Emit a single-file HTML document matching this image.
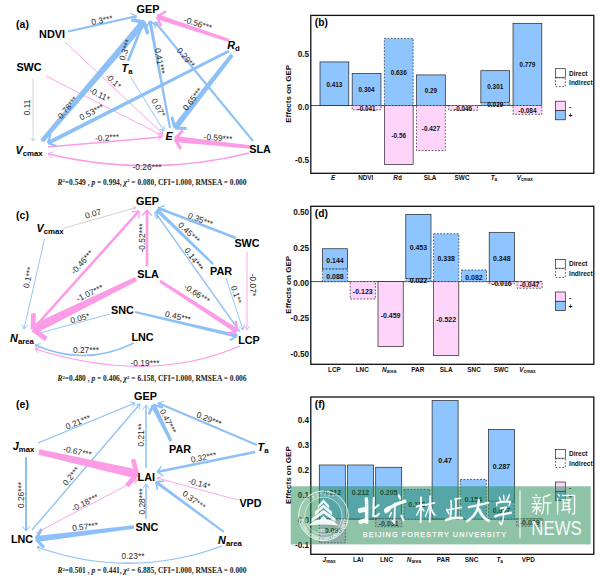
<!DOCTYPE html>
<html><head><meta charset="utf-8"><title>SEM figure</title>
<style>html,body{margin:0;padding:0;background:#fff}svg{display:block}text{font-family:"Liberation Sans",sans-serif}text.cap{font-family:"Liberation Serif",serif}</style>
</head><body>
<svg width="600" height="581" viewBox="0 0 600 581">
<rect width="600" height="581" fill="#fff"/>
<line x1="33" y1="78" x2="33" y2="141" stroke="#c4c4c4" stroke-width="0.7"/>
<line x1="33" y1="141" x2="31.16" y2="138.14" stroke="#c4c4c4" stroke-width="0.9" stroke-linecap="butt"/><line x1="33" y1="141" x2="34.84" y2="138.14" stroke="#c4c4c4" stroke-width="0.9" stroke-linecap="butt"/>
<line x1="65" y1="42" x2="163" y2="134" stroke="#fc9ce7" stroke-width="0.9"/>
<line x1="163" y1="134" x2="158.1" y2="133.17" stroke="#fc9ce7" stroke-width="0.9" stroke-linecap="butt"/><line x1="163" y1="134" x2="161.86" y2="129.16" stroke="#fc9ce7" stroke-width="0.9" stroke-linecap="butt"/>
<line x1="46" y1="76" x2="163" y2="136" stroke="#fc9ce7" stroke-width="0.9"/>
<line x1="163" y1="136" x2="158.06" y2="136.56" stroke="#fc9ce7" stroke-width="0.9" stroke-linecap="butt"/><line x1="163" y1="136" x2="160.57" y2="131.66" stroke="#fc9ce7" stroke-width="0.9" stroke-linecap="butt"/>
<line x1="130" y1="76" x2="164" y2="131" stroke="#8cc0f7" stroke-width="0.9"/>
<line x1="164" y1="131" x2="159.48" y2="128.93" stroke="#8cc0f7" stroke-width="0.9" stroke-linecap="butt"/><line x1="164" y1="131" x2="164.16" y2="126.03" stroke="#8cc0f7" stroke-width="0.9" stroke-linecap="butt"/>
<line x1="48" y1="147" x2="162" y2="137" stroke="#fc9ce7" stroke-width="1.5"/>
<line x1="162" y1="137" x2="157.66" y2="140.77" stroke="#fc9ce7" stroke-width="0.9" stroke-linecap="butt"/><line x1="162" y1="137" x2="157.07" y2="134.04" stroke="#fc9ce7" stroke-width="0.9" stroke-linecap="butt"/>
<path d="M249 153 Q150 178 48 154" fill="none" stroke="#fc9ce7" stroke-width="1.5"/>
<line x1="48" y1="154" x2="53.3" y2="151.78" stroke="#fc9ce7" stroke-width="0.9" stroke-linecap="butt"/><line x1="48" y1="154" x2="51.75" y2="158.36" stroke="#fc9ce7" stroke-width="0.9" stroke-linecap="butt"/>
<polygon points="253.77,140.36 155.77,21.36 154.23,22.64 252.23,141.64" fill="#8cc0f7"/>
<line x1="155" y1="22" x2="161.25" y2="23.39" stroke="#8cc0f7" stroke-width="1" stroke-linecap="butt"/><line x1="155" y1="22" x2="155.16" y2="28.4" stroke="#8cc0f7" stroke-width="1" stroke-linecap="butt"/>
<polygon points="68.24,32.57 136.74,17.37 136.26,15.23 67.76,30.43" fill="#8cc0f7"/>
<line x1="136.5" y1="16.3" x2="132.34" y2="21.5" stroke="#8cc0f7" stroke-width="1.1" stroke-linecap="butt"/><line x1="136.5" y1="16.3" x2="130.53" y2="13.35" stroke="#8cc0f7" stroke-width="1.1" stroke-linecap="butt"/>
<polygon points="129.21,61.48 145.21,21.48 142.79,20.52 126.79,60.52" fill="#8cc0f7"/>
<line x1="144" y1="21" x2="146.29" y2="27.81" stroke="#8cc0f7" stroke-width="1.3" stroke-linecap="butt"/><line x1="144" y1="21" x2="137.65" y2="24.35" stroke="#8cc0f7" stroke-width="1.3" stroke-linecap="butt"/>
<polygon points="228.41,49.84 47.05,141.13 48.95,144.87 229.59,52.16" fill="#8cc0f7"/>
<line x1="48" y1="143" x2="50.59" y2="134.11" stroke="#8cc0f7" stroke-width="2.1" stroke-linecap="butt"/><line x1="48" y1="143" x2="56.71" y2="146.15" stroke="#8cc0f7" stroke-width="2.1" stroke-linecap="butt"/>
<polygon points="170.98,127.82 151.57,20.71 148.43,21.29 169.02,128.18" fill="#8cc0f7"/>
<line x1="150" y1="21" x2="156.39" y2="25.75" stroke="#8cc0f7" stroke-width="1.6" stroke-linecap="butt"/><line x1="150" y1="21" x2="145.76" y2="27.73" stroke="#8cc0f7" stroke-width="1.6" stroke-linecap="butt"/>
<polygon points="230.53,53.86 172.64,126.15 177.36,129.85 233.47,56.14" fill="#8cc0f7"/>
<line x1="175" y1="128" x2="171.8" y2="116.85" stroke="#8cc0f7" stroke-width="3" stroke-linecap="butt"/><line x1="175" y1="128" x2="186.59" y2="128.4" stroke="#8cc0f7" stroke-width="3" stroke-linecap="butt"/>
<polygon points="43.65,142.41 146.66,24.28 141.34,19.72 40.35,139.59" fill="#8cc0f7"/>
<line x1="144" y1="22" x2="147.86" y2="34.31" stroke="#8cc0f7" stroke-width="3.5" stroke-linecap="butt"/><line x1="144" y1="22" x2="131.25" y2="20.07" stroke="#8cc0f7" stroke-width="3.5" stroke-linecap="butt"/>
<polygon points="229.49,39.03 157.99,14.23 156.41,18.97 228.51,41.97" fill="#fc9ce7"/>
<line x1="157.2" y1="16.6" x2="165.97" y2="11.2" stroke="#fc9ce7" stroke-width="2.5" stroke-linecap="butt"/><line x1="157.2" y1="16.6" x2="160.99" y2="26.18" stroke="#fc9ce7" stroke-width="2.5" stroke-linecap="butt"/>
<polygon points="250.2,145.15 175.32,136.02 174.68,141.98 249.8,148.85" fill="#fc9ce7"/>
<line x1="175" y1="139" x2="182.78" y2="130.39" stroke="#fc9ce7" stroke-width="3" stroke-linecap="butt"/><line x1="175" y1="139" x2="180.78" y2="149.05" stroke="#fc9ce7" stroke-width="3" stroke-linecap="butt"/>
<text transform="translate(27 107.5) rotate(-90)" y="3.02" text-anchor="middle" font-size="8.4" fill="#2a2a2a">0.11</text>
<text transform="translate(113.5 81) rotate(43)" y="3.02" text-anchor="middle" font-size="8.4" fill="#2a2a2a">-0.1*</text>
<text transform="translate(99.5 94.5) rotate(27)" y="3.02" text-anchor="middle" font-size="8.4" fill="#2a2a2a">-0.11*</text>
<text transform="translate(158.5 107.5) rotate(60)" y="3.02" text-anchor="middle" font-size="8.4" fill="#2a2a2a">0.07*</text>
<text transform="translate(107 137.5) rotate(-4)" y="3.02" text-anchor="middle" font-size="8.4" fill="#2a2a2a">-0.2***</text>
<text transform="translate(147 167) rotate(0)" y="3.02" text-anchor="middle" font-size="8.4" fill="#2a2a2a">-0.26***</text>
<text transform="translate(186 57.5) rotate(50)" y="3.02" text-anchor="middle" font-size="8.4" fill="#2a2a2a">0.29**</text>
<text transform="translate(102 20) rotate(-11)" y="3.02" text-anchor="middle" font-size="8.4" fill="#2a2a2a">0.3***</text>
<text transform="translate(125 50) rotate(-72)" y="3.02" text-anchor="middle" font-size="8.4" fill="#2a2a2a">0.3***</text>
<text transform="translate(91.5 112) rotate(-27)" y="3.02" text-anchor="middle" font-size="8.4" fill="#2a2a2a">0.53***</text>
<text transform="translate(160 61) rotate(80)" y="3.02" text-anchor="middle" font-size="8.4" fill="#2a2a2a">0.41***</text>
<text transform="translate(192.5 99) rotate(-52)" y="3.02" text-anchor="middle" font-size="8.4" fill="#2a2a2a">0.65***</text>
<text transform="translate(67.5 107.5) rotate(-50)" y="3.02" text-anchor="middle" font-size="8.4" fill="#2a2a2a">0.78***</text>
<text transform="translate(198 23.5) rotate(17)" y="3.02" text-anchor="middle" font-size="8.4" fill="#2a2a2a">-0.56***</text>
<text transform="translate(218 137.7) rotate(5)" y="3.02" text-anchor="middle" font-size="8.4" fill="#2a2a2a">-0.59***</text>
<text x="22.5" y="27.5" text-anchor="middle" font-size="10.5" font-weight="bold" fill="#000">(a)</text>
<text x="148" y="13.4" text-anchor="middle" font-size="10.8" font-weight="bold" fill="#000">GEP</text>
<text x="52" y="37.5" text-anchor="middle" font-size="10.8" font-weight="bold" fill="#000">NDVI</text>
<text x="29" y="71" text-anchor="middle" font-size="10.8" font-weight="bold" fill="#000">SWC</text>
<text x="233.5" y="48.5" text-anchor="middle" font-size="10.8" font-weight="bold" fill="#000"><tspan font-style="italic">R</tspan><tspan font-size="7.8" dy="2.2">d</tspan></text>
<text x="127" y="71.5" text-anchor="middle" font-size="10.8" font-weight="bold" fill="#000"><tspan font-style="italic">T</tspan><tspan font-size="7.8" dy="2.2">a</tspan></text>
<text x="169" y="140" text-anchor="middle" font-size="10.8" font-weight="bold" fill="#000"><tspan font-style="italic">E</tspan></text>
<text x="260" y="152.5" text-anchor="middle" font-size="10.8" font-weight="bold" fill="#000">SLA</text>
<text x="29" y="153.5" text-anchor="middle" font-size="10.8" font-weight="bold" fill="#000"><tspan font-style="italic">V</tspan><tspan font-size="7.8" dy="2.2">cmax</tspan></text>
<text x="152" y="185" text-anchor="middle" class="cap" font-weight="bold" font-size="7.45" fill="#222"><tspan font-style="italic">R</tspan><tspan font-size="4.9" dy="-2.6">2</tspan><tspan dy="2.6">=0.549 , </tspan><tspan font-style="italic">p</tspan> = 0.994, <tspan font-style="italic">χ</tspan><tspan font-size="4.9" dy="-2.6">2</tspan><tspan dy="2.6"> = 0.080, CFI=1.000, RMSEA = 0.000</tspan></text>
<line x1="62.5" y1="228.5" x2="136" y2="207.5" stroke="#c4c4c4" stroke-width="0.8"/>
<line x1="136" y1="207.5" x2="133.78" y2="210.07" stroke="#c4c4c4" stroke-width="0.9" stroke-linecap="butt"/><line x1="136" y1="207.5" x2="132.75" y2="206.49" stroke="#c4c4c4" stroke-width="0.9" stroke-linecap="butt"/>
<line x1="44.5" y1="239" x2="24" y2="329" stroke="#8cc0f7" stroke-width="0.9"/>
<line x1="24" y1="329" x2="22.24" y2="324.35" stroke="#8cc0f7" stroke-width="0.9" stroke-linecap="butt"/><line x1="24" y1="329" x2="27.6" y2="325.57" stroke="#8cc0f7" stroke-width="0.9" stroke-linecap="butt"/>
<line x1="247" y1="252" x2="247" y2="330" stroke="#fc9ce7" stroke-width="0.9"/>
<line x1="247" y1="330" x2="244.25" y2="325.86" stroke="#fc9ce7" stroke-width="0.9" stroke-linecap="butt"/><line x1="247" y1="330" x2="249.75" y2="325.86" stroke="#fc9ce7" stroke-width="0.9" stroke-linecap="butt"/>
<line x1="226" y1="278" x2="243" y2="330" stroke="#8cc0f7" stroke-width="0.9"/>
<line x1="243" y1="330" x2="239.1" y2="326.92" stroke="#8cc0f7" stroke-width="0.9" stroke-linecap="butt"/><line x1="243" y1="330" x2="244.33" y2="325.21" stroke="#8cc0f7" stroke-width="0.9" stroke-linecap="butt"/>
<line x1="110" y1="314" x2="36" y2="334" stroke="#8cc0f7" stroke-width="0.9"/>
<line x1="36" y1="334" x2="39.28" y2="330.26" stroke="#8cc0f7" stroke-width="0.9" stroke-linecap="butt"/><line x1="36" y1="334" x2="40.71" y2="335.58" stroke="#8cc0f7" stroke-width="0.9" stroke-linecap="butt"/>
<line x1="240" y1="332" x2="155" y2="212" stroke="#8cc0f7" stroke-width="1.3"/>
<line x1="155" y1="212" x2="160.18" y2="213.83" stroke="#8cc0f7" stroke-width="0.9" stroke-linecap="butt"/><line x1="155" y1="212" x2="155.01" y2="217.49" stroke="#8cc0f7" stroke-width="0.9" stroke-linecap="butt"/>
<path d="M134 343 Q85 367 35 345" fill="none" stroke="#8cc0f7" stroke-width="1.6"/>
<line x1="35" y1="345" x2="40.74" y2="343.71" stroke="#8cc0f7" stroke-width="0.9" stroke-linecap="butt"/><line x1="35" y1="345" x2="37.93" y2="350.1" stroke="#8cc0f7" stroke-width="0.9" stroke-linecap="butt"/>
<path d="M240 346 Q150 385 35 349" fill="none" stroke="#fc9ce7" stroke-width="1.3"/>
<line x1="35" y1="349" x2="40.23" y2="347.32" stroke="#fc9ce7" stroke-width="0.9" stroke-linecap="butt"/><line x1="35" y1="349" x2="38.34" y2="353.36" stroke="#fc9ce7" stroke-width="0.9" stroke-linecap="butt"/>
<polygon points="33.97,329.87 139.97,211.87 138.03,210.13 32.03,328.13" fill="#fc9ce7"/>
<line x1="139" y1="211" x2="138.81" y2="218.18" stroke="#fc9ce7" stroke-width="1.3" stroke-linecap="butt"/><line x1="139" y1="211" x2="131.88" y2="211.96" stroke="#fc9ce7" stroke-width="1.3" stroke-linecap="butt"/>
<polygon points="148.3,266 148.3,210 145.7,210 145.7,266" fill="#fc9ce7"/>
<line x1="147" y1="210" x2="151.65" y2="215.47" stroke="#fc9ce7" stroke-width="1.3" stroke-linecap="butt"/><line x1="147" y1="210" x2="142.35" y2="215.47" stroke="#fc9ce7" stroke-width="1.3" stroke-linecap="butt"/>
<polygon points="236.47,236.79 158.47,206.79 157.53,209.21 235.53,239.21" fill="#8cc0f7"/>
<line x1="158" y1="208" x2="164.77" y2="205.62" stroke="#8cc0f7" stroke-width="1.3" stroke-linecap="butt"/><line x1="158" y1="208" x2="161.43" y2="214.31" stroke="#8cc0f7" stroke-width="1.3" stroke-linecap="butt"/>
<polygon points="213.82,263.15 158.32,208.63 155.68,211.37 212.18,264.85" fill="#8cc0f7"/>
<line x1="157" y1="210" x2="165.74" y2="209.81" stroke="#8cc0f7" stroke-width="1.9" stroke-linecap="butt"/><line x1="157" y1="210" x2="157.13" y2="218.74" stroke="#8cc0f7" stroke-width="1.9" stroke-linecap="butt"/>
<polygon points="134.74,313.09 236.59,337.75 237.41,334.25 135.26,310.91" fill="#8cc0f7"/>
<line x1="237" y1="336" x2="229.74" y2="340.39" stroke="#8cc0f7" stroke-width="1.8" stroke-linecap="butt"/><line x1="237" y1="336" x2="232.46" y2="328.84" stroke="#8cc0f7" stroke-width="1.8" stroke-linecap="butt"/>
<polygon points="159.16,282.3 235.64,333.1 238.36,328.9 160.84,279.7" fill="#fc9ce7"/>
<line x1="237" y1="331" x2="227.15" y2="334.01" stroke="#fc9ce7" stroke-width="2.5" stroke-linecap="butt"/><line x1="237" y1="331" x2="235.74" y2="320.78" stroke="#fc9ce7" stroke-width="2.5" stroke-linecap="butt"/>
<polygon points="135.03,277.02 30.89,325.19 35.11,333.81 136.97,280.98" fill="#fc9ce7"/>
<line x1="33" y1="329.5" x2="33.53" y2="313.23" stroke="#fc9ce7" stroke-width="4.8" stroke-linecap="butt"/><line x1="33" y1="329.5" x2="46.19" y2="339.04" stroke="#fc9ce7" stroke-width="4.8" stroke-linecap="butt"/>
<text transform="translate(93 213.5) rotate(-16)" y="3.02" text-anchor="middle" font-size="8.4" fill="#2a2a2a">0.07</text>
<text transform="translate(28 277.5) rotate(-78)" y="3.02" text-anchor="middle" font-size="8.4" fill="#2a2a2a">0.1***</text>
<text transform="translate(253 285) rotate(90)" y="3.02" text-anchor="middle" font-size="8.4" fill="#2a2a2a">-0.07*</text>
<text transform="translate(236.5 294.5) rotate(72)" y="3.02" text-anchor="middle" font-size="8.4" fill="#2a2a2a">0.1**</text>
<text transform="translate(80 318) rotate(-15)" y="3.02" text-anchor="middle" font-size="8.4" fill="#2a2a2a">0.05*</text>
<text transform="translate(194 259) rotate(54)" y="3.02" text-anchor="middle" font-size="8.4" fill="#2a2a2a">0.14***</text>
<text transform="translate(86 350.3) rotate(0)" y="3.02" text-anchor="middle" font-size="8.4" fill="#2a2a2a">0.27***</text>
<text transform="translate(145 363.3) rotate(0)" y="3.02" text-anchor="middle" font-size="8.4" fill="#2a2a2a">-0.19***</text>
<text transform="translate(82 262) rotate(-48)" y="3.02" text-anchor="middle" font-size="8.4" fill="#2a2a2a">-0.46***</text>
<text transform="translate(142 238) rotate(-90)" y="3.02" text-anchor="middle" font-size="8.4" fill="#2a2a2a">-0.52***</text>
<text transform="translate(200.5 219.5) rotate(21)" y="3.02" text-anchor="middle" font-size="8.4" fill="#2a2a2a">0.35***</text>
<text transform="translate(189.2 232.5) rotate(43)" y="3.02" text-anchor="middle" font-size="8.4" fill="#2a2a2a">0.45***</text>
<text transform="translate(178 316.5) rotate(13)" y="3.02" text-anchor="middle" font-size="8.4" fill="#2a2a2a">0.45***</text>
<text transform="translate(197 293.5) rotate(33)" y="3.02" text-anchor="middle" font-size="8.4" fill="#2a2a2a">-0.66***</text>
<text transform="translate(89.6 293) rotate(-26)" y="3.02" text-anchor="middle" font-size="8.4" fill="#2a2a2a">-1.07***</text>
<text x="22.5" y="218.5" text-anchor="middle" font-size="10.5" font-weight="bold" fill="#000">(c)</text>
<text x="147.5" y="205" text-anchor="middle" font-size="10.8" font-weight="bold" fill="#000">GEP</text>
<text x="50" y="231.5" text-anchor="middle" font-size="10.8" font-weight="bold" fill="#000"><tspan font-style="italic">V</tspan><tspan font-size="7.8" dy="2.2">cmax</tspan></text>
<text x="148" y="277.8" text-anchor="middle" font-size="10.8" font-weight="bold" fill="#000">SLA</text>
<text x="247" y="247" text-anchor="middle" font-size="10.8" font-weight="bold" fill="#000">SWC</text>
<text x="221" y="275" text-anchor="middle" font-size="10.8" font-weight="bold" fill="#000">PAR</text>
<text x="122.5" y="314" text-anchor="middle" font-size="10.8" font-weight="bold" fill="#000">SNC</text>
<text x="142.5" y="341" text-anchor="middle" font-size="10.8" font-weight="bold" fill="#000">LNC</text>
<text x="22" y="341.5" text-anchor="middle" font-size="10.8" font-weight="bold" fill="#000"><tspan font-style="italic">N</tspan><tspan font-size="7.8" dy="2.2">area</tspan></text>
<text x="249" y="343.5" text-anchor="middle" font-size="10.8" font-weight="bold" fill="#000">LCP</text>
<text x="152" y="381.2" text-anchor="middle" class="cap" font-weight="bold" font-size="7.45" fill="#222"><tspan font-style="italic">R</tspan><tspan font-size="4.9" dy="-2.6">2</tspan><tspan dy="2.6">=0.480 , </tspan><tspan font-style="italic">p</tspan> = 0.406, <tspan font-style="italic">χ</tspan><tspan font-size="4.9" dy="-2.6">2</tspan><tspan dy="2.6"> = 6.158, CFI=1.000, RMSEA = 0.006</tspan></text>
<line x1="36" y1="533" x2="137" y2="480" stroke="#fc9ce7" stroke-width="0.9"/>
<line x1="137" y1="480" x2="134.61" y2="484.36" stroke="#fc9ce7" stroke-width="0.9" stroke-linecap="butt"/><line x1="137" y1="480" x2="132.06" y2="479.49" stroke="#fc9ce7" stroke-width="0.9" stroke-linecap="butt"/>
<line x1="238" y1="500" x2="157" y2="478" stroke="#fc9ce7" stroke-width="0.9"/>
<line x1="157" y1="478" x2="161.72" y2="476.43" stroke="#fc9ce7" stroke-width="0.9" stroke-linecap="butt"/><line x1="157" y1="478" x2="160.27" y2="481.74" stroke="#fc9ce7" stroke-width="0.9" stroke-linecap="butt"/>
<line x1="38" y1="443" x2="135" y2="403" stroke="#8cc0f7" stroke-width="1.3"/>
<line x1="135" y1="403" x2="132.06" y2="407.64" stroke="#8cc0f7" stroke-width="0.9" stroke-linecap="butt"/><line x1="135" y1="403" x2="129.65" y2="401.78" stroke="#8cc0f7" stroke-width="0.9" stroke-linecap="butt"/>
<line x1="32" y1="530" x2="140" y2="404" stroke="#8cc0f7" stroke-width="1.3"/>
<line x1="140" y1="404" x2="139.48" y2="409.47" stroke="#8cc0f7" stroke-width="0.9" stroke-linecap="butt"/><line x1="140" y1="404" x2="134.68" y2="405.35" stroke="#8cc0f7" stroke-width="0.9" stroke-linecap="butt"/>
<line x1="146" y1="468" x2="146" y2="405" stroke="#8cc0f7" stroke-width="1.5"/>
<line x1="146" y1="405" x2="149.38" y2="409.65" stroke="#8cc0f7" stroke-width="0.9" stroke-linecap="butt"/><line x1="146" y1="405" x2="142.62" y2="409.65" stroke="#8cc0f7" stroke-width="0.9" stroke-linecap="butt"/>
<line x1="146" y1="519" x2="146" y2="484" stroke="#8cc0f7" stroke-width="1.5"/>
<line x1="146" y1="484" x2="149.38" y2="488.65" stroke="#8cc0f7" stroke-width="0.9" stroke-linecap="butt"/><line x1="146" y1="484" x2="142.62" y2="488.65" stroke="#8cc0f7" stroke-width="0.9" stroke-linecap="butt"/>
<path d="M222 546 Q130 580 37 547" fill="none" stroke="#8cc0f7" stroke-width="1.3"/>
<line x1="37" y1="547" x2="42.29" y2="545.52" stroke="#8cc0f7" stroke-width="0.9" stroke-linecap="butt"/><line x1="37" y1="547" x2="40.17" y2="551.48" stroke="#8cc0f7" stroke-width="0.9" stroke-linecap="butt"/>
<polygon points="25,457 25,531 27,531 27,457" fill="#8cc0f7"/>
<line x1="26" y1="531" x2="22.06" y2="525.96" stroke="#8cc0f7" stroke-width="1" stroke-linecap="butt"/><line x1="26" y1="531" x2="29.94" y2="525.96" stroke="#8cc0f7" stroke-width="1" stroke-linecap="butt"/>
<polygon points="257.39,444.08 158.39,402.08 157.61,403.92 256.61,445.92" fill="#8cc0f7"/>
<line x1="158" y1="403" x2="164.18" y2="401.34" stroke="#8cc0f7" stroke-width="1" stroke-linecap="butt"/><line x1="158" y1="403" x2="161.1" y2="408.6" stroke="#8cc0f7" stroke-width="1" stroke-linecap="butt"/>
<polygon points="254.74,450.73 156.74,470.73 157.26,473.27 255.26,453.27" fill="#8cc0f7"/>
<line x1="157" y1="472" x2="161.43" y2="466.35" stroke="#8cc0f7" stroke-width="1.3" stroke-linecap="butt"/><line x1="157" y1="472" x2="163.29" y2="475.47" stroke="#8cc0f7" stroke-width="1.3" stroke-linecap="butt"/>
<polygon points="224.59,531.2 156.95,480.71 155.05,483.29 223.41,532.8" fill="#8cc0f7"/>
<line x1="156" y1="482" x2="163.91" y2="481.1" stroke="#8cc0f7" stroke-width="1.6" stroke-linecap="butt"/><line x1="156" y1="482" x2="157.5" y2="489.82" stroke="#8cc0f7" stroke-width="1.6" stroke-linecap="butt"/>
<polygon points="172.39,440.31 155.24,403.88 150.76,406.12 169.61,441.69" fill="#8cc0f7"/>
<line x1="153" y1="405" x2="163.02" y2="407.39" stroke="#8cc0f7" stroke-width="2.5" stroke-linecap="butt"/><line x1="153" y1="405" x2="148.9" y2="414.45" stroke="#8cc0f7" stroke-width="2.5" stroke-linecap="butt"/>
<polygon points="133.77,525.15 35.64,536.02 36.36,541.98 134.23,528.85" fill="#8cc0f7"/>
<line x1="36" y1="539" x2="41.63" y2="528.86" stroke="#8cc0f7" stroke-width="3" stroke-linecap="butt"/><line x1="36" y1="539" x2="43.91" y2="547.49" stroke="#8cc0f7" stroke-width="3" stroke-linecap="butt"/>
<polygon points="38.39,454.72 136.01,478.39 137.99,469.61 39.61,449.28" fill="#fc9ce7"/>
<line x1="137" y1="474" x2="126.9" y2="485.76" stroke="#fc9ce7" stroke-width="4.5" stroke-linecap="butt"/><line x1="137" y1="474" x2="132.9" y2="459.05" stroke="#fc9ce7" stroke-width="4.5" stroke-linecap="butt"/>
<text transform="translate(85 502.5) rotate(-27)" y="3.02" text-anchor="middle" font-size="8.4" fill="#2a2a2a">-0.18***</text>
<text transform="translate(199.5 483.5) rotate(15)" y="3.02" text-anchor="middle" font-size="8.4" fill="#2a2a2a">-0.14*</text>
<text transform="translate(78 422) rotate(-22)" y="3.02" text-anchor="middle" font-size="8.4" fill="#2a2a2a">0.21***</text>
<text transform="translate(71 476) rotate(-50)" y="3.02" text-anchor="middle" font-size="8.4" fill="#2a2a2a">0.2***</text>
<text transform="translate(140.7 435) rotate(-90)" y="3.02" text-anchor="middle" font-size="8.4" fill="#2a2a2a">0.21**</text>
<text transform="translate(141.5 501.5) rotate(-90)" y="3.02" text-anchor="middle" font-size="8.4" fill="#2a2a2a">0.28***</text>
<text transform="translate(133 556) rotate(0)" y="3.02" text-anchor="middle" font-size="8.4" fill="#2a2a2a">0.23**</text>
<text transform="translate(21 495) rotate(-90)" y="3.02" text-anchor="middle" font-size="8.4" fill="#2a2a2a">0.26***</text>
<text transform="translate(209 419) rotate(23)" y="3.02" text-anchor="middle" font-size="8.4" fill="#2a2a2a">0.29***</text>
<text transform="translate(203.5 457.2) rotate(-12)" y="3.02" text-anchor="middle" font-size="8.4" fill="#2a2a2a">0.32***</text>
<text transform="translate(194 500) rotate(36)" y="3.02" text-anchor="middle" font-size="8.4" fill="#2a2a2a">0.37***</text>
<text transform="translate(168.2 421.2) rotate(63)" y="3.02" text-anchor="middle" font-size="8.4" fill="#2a2a2a">0.47***</text>
<text transform="translate(85 526.5) rotate(-7)" y="3.02" text-anchor="middle" font-size="8.4" fill="#2a2a2a">0.57***</text>
<text transform="translate(77.5 451.5) rotate(12)" y="3.02" text-anchor="middle" font-size="8.4" fill="#2a2a2a">-0.67***</text>
<text x="22.5" y="407.5" text-anchor="middle" font-size="10.5" font-weight="bold" fill="#000">(e)</text>
<text x="145.5" y="399.8" text-anchor="middle" font-size="10.8" font-weight="bold" fill="#000">GEP</text>
<text x="23.5" y="449.5" text-anchor="middle" font-size="10.8" font-weight="bold" fill="#000"><tspan font-style="italic">J</tspan><tspan font-size="7.8" dy="2.2">max</tspan></text>
<text x="180" y="452.5" text-anchor="middle" font-size="10.8" font-weight="bold" fill="#000">PAR</text>
<text x="263" y="450.5" text-anchor="middle" font-size="10.8" font-weight="bold" fill="#000"><tspan font-style="italic">T</tspan><tspan font-size="7.8" dy="2.2">a</tspan></text>
<text x="146.3" y="480.8" text-anchor="middle" font-size="10.8" font-weight="bold" fill="#000">LAI</text>
<text x="250.5" y="506.5" text-anchor="middle" font-size="10.8" font-weight="bold" fill="#000">VPD</text>
<text x="147" y="531" text-anchor="middle" font-size="10.8" font-weight="bold" fill="#000">SNC</text>
<text x="22" y="542.5" text-anchor="middle" font-size="10.8" font-weight="bold" fill="#000">LNC</text>
<text x="230" y="543.5" text-anchor="middle" font-size="10.8" font-weight="bold" fill="#000"><tspan font-style="italic">N</tspan><tspan font-size="7.8" dy="2.2">area</tspan></text>
<text x="152" y="573.3" text-anchor="middle" class="cap" font-weight="bold" font-size="7.45" fill="#222"><tspan font-style="italic">R</tspan><tspan font-size="4.9" dy="-2.6">2</tspan><tspan dy="2.6">=0.501 , </tspan><tspan font-style="italic">p</tspan> = 0.441, <tspan font-style="italic">χ</tspan><tspan font-size="4.9" dy="-2.6">2</tspan><tspan dy="2.6"> = 6.885, CFI=1.000, RMSEA = 0.000</tspan></text>
<line x1="310.8" y1="105.5" x2="541.82" y2="105.5" stroke="#222" stroke-width="0.8"/>
<rect x="320" y="61.93" width="28.8" height="43.57" fill="#8fc5ff" stroke="#222" stroke-width="0.7"/>
<rect x="352.17" y="73.43" width="28.8" height="32.07" fill="#8fc5ff" stroke="#222" stroke-width="0.7"/>
<rect x="384.34" y="105.5" width="28.8" height="59.08" fill="#ffd4fb" stroke="#222" stroke-width="0.7"/>
<rect x="416.51" y="74.91" width="28.8" height="30.59" fill="#8fc5ff" stroke="#222" stroke-width="0.7"/>
<rect x="480.85" y="70.69" width="28.8" height="31.76" fill="#8fc5ff" stroke="#222" stroke-width="0.7"/>
<rect x="513.02" y="23.32" width="28.8" height="82.18" fill="#8fc5ff" stroke="#222" stroke-width="0.7"/>
<rect x="352.17" y="105.5" width="28.8" height="4.33" fill="#ffd4fb" stroke="#222" stroke-width="0.7" stroke-dasharray="1.7 1.6"/>
<rect x="384.34" y="38.4" width="28.8" height="67.1" fill="#8fc5ff" stroke="#222" stroke-width="0.7" stroke-dasharray="1.7 1.6"/>
<rect x="416.51" y="105.5" width="28.8" height="45.05" fill="#ffd4fb" stroke="#222" stroke-width="0.7" stroke-dasharray="1.7 1.6"/>
<rect x="448.68" y="105.5" width="28.8" height="4.85" fill="#ffd4fb" stroke="#222" stroke-width="0.7" stroke-dasharray="1.7 1.6"/>
<rect x="480.85" y="102.44" width="28.8" height="3.06" fill="#8fc5ff" stroke="#222" stroke-width="0.7" stroke-dasharray="1.7 1.6"/>
<rect x="513.02" y="105.5" width="28.8" height="8.86" fill="#ffd4fb" stroke="#222" stroke-width="0.7" stroke-dasharray="1.7 1.6"/>
<text x="334.4" y="86.62" text-anchor="middle" font-size="6.4" font-weight="bold" fill="#111">0.413</text>
<text x="366.57" y="92.37" text-anchor="middle" font-size="6.4" font-weight="bold" fill="#111">0.304</text>
<text x="366.57" y="110.6" text-anchor="middle" font-size="6.4" font-weight="bold" fill="#111">-0.041</text>
<text x="398.74" y="74.85" text-anchor="middle" font-size="6.4" font-weight="bold" fill="#111">0.636</text>
<text x="398.74" y="137.94" text-anchor="middle" font-size="6.4" font-weight="bold" fill="#111">-0.56</text>
<text x="430.91" y="93.11" text-anchor="middle" font-size="6.4" font-weight="bold" fill="#111">0.29</text>
<text x="430.91" y="130.93" text-anchor="middle" font-size="6.4" font-weight="bold" fill="#111">-0.427</text>
<text x="463.08" y="110.6" text-anchor="middle" font-size="6.4" font-weight="bold" fill="#111">-0.046</text>
<text x="495.25" y="106.6" text-anchor="middle" font-size="6.4" font-weight="bold" fill="#111">0.029</text>
<text x="495.25" y="89.47" text-anchor="middle" font-size="6.4" font-weight="bold" fill="#111">0.301</text>
<text x="527.42" y="67.31" text-anchor="middle" font-size="6.4" font-weight="bold" fill="#111">0.779</text>
<text x="527.42" y="112.83" text-anchor="middle" font-size="6.4" font-weight="bold" fill="#111">-0.084</text>
<rect x="310.8" y="15.4" width="283" height="157.9" fill="none" stroke="#111" stroke-width="1.3"/>
<text x="309.1" y="57.15" text-anchor="end" font-size="8.2" font-weight="bold" fill="#111">0.5</text>
<text x="309.1" y="109.9" text-anchor="end" font-size="8.2" font-weight="bold" fill="#111">0.0</text>
<text x="309.1" y="162.65" text-anchor="end" font-size="8.2" font-weight="bold" fill="#111">-0.5</text>
<text x="333.2" y="179.8" text-anchor="middle" font-size="6.4" font-weight="bold" fill="#111"><tspan font-style="italic">E</tspan></text>
<text x="365.77" y="179.8" text-anchor="middle" font-size="6.4" font-weight="bold" fill="#111">NDVI</text>
<text x="397.54" y="179.8" text-anchor="middle" font-size="6.4" font-weight="bold" fill="#111"><tspan font-style="italic">R</tspan>d</text>
<text x="430.11" y="179.8" text-anchor="middle" font-size="6.4" font-weight="bold" fill="#111">SLA</text>
<text x="462.08" y="179.8" text-anchor="middle" font-size="6.4" font-weight="bold" fill="#111">SWC</text>
<text x="493.95" y="179.8" text-anchor="middle" font-size="6.4" font-weight="bold" fill="#111"><tspan font-style="italic">T</tspan><tspan font-size="4.7" dy="1.3">a</tspan></text>
<text x="524.82" y="179.8" text-anchor="middle" font-size="6.4" font-weight="bold" fill="#111"><tspan font-style="italic">V</tspan><tspan font-size="4.7" dy="1.3">cmax</tspan></text>
<text x="314.8" y="26.2" font-size="10.2" font-weight="bold" fill="#000">(b)</text>
<text transform="translate(291 93.85) rotate(-90)" text-anchor="middle" font-size="8" font-weight="bold" fill="#111">Effects on GEP</text>
<rect x="555.5" y="68.7" width="9.8" height="8.7" fill="#fff" stroke="#222" stroke-width="0.7"/>
<rect x="555.5" y="77.9" width="9.8" height="8.7" fill="#fff" stroke="#222" stroke-width="0.7" stroke-dasharray="1.7 1.6"/>
<text x="569.1" y="75.6" font-size="6.5" font-weight="bold" fill="#111">Direct</text>
<text x="569.1" y="84.8" font-size="6.5" font-weight="bold" fill="#111">Indirect</text>
<rect x="555.5" y="101.2" width="9.8" height="9.3" fill="#ffd4fb" stroke="#222" stroke-width="0.7"/>
<rect x="555.5" y="110.5" width="9.8" height="9.3" fill="#8fc5ff" stroke="#222" stroke-width="0.7"/>
<text x="569" y="109.2" font-size="6.8" font-weight="bold" fill="#111">-</text>
<text x="568.5" y="118.2" font-size="6.8" font-weight="bold" fill="#111">+</text>
<line x1="310.8" y1="281.6" x2="542.2" y2="281.6" stroke="#222" stroke-width="0.8"/>
<rect x="322.4" y="248.75" width="25.2" height="20.39" fill="#8fc5ff" stroke="#222" stroke-width="0.7"/>
<rect x="378" y="281.6" width="25.2" height="64.99" fill="#ffd4fb" stroke="#222" stroke-width="0.7"/>
<rect x="405.8" y="214.34" width="25.2" height="64.14" fill="#8fc5ff" stroke="#222" stroke-width="0.7"/>
<rect x="433.6" y="281.6" width="25.2" height="73.92" fill="#ffd4fb" stroke="#222" stroke-width="0.7"/>
<rect x="489.2" y="232.32" width="25.2" height="49.28" fill="#8fc5ff" stroke="#222" stroke-width="0.7"/>
<rect x="322.4" y="269.14" width="25.2" height="12.46" fill="#8fc5ff" stroke="#222" stroke-width="0.7" stroke-dasharray="1.7 1.6"/>
<rect x="350.2" y="281.6" width="25.2" height="17.42" fill="#ffd4fb" stroke="#222" stroke-width="0.7" stroke-dasharray="1.7 1.6"/>
<rect x="405.8" y="278.48" width="25.2" height="3.12" fill="#8fc5ff" stroke="#222" stroke-width="0.7" stroke-dasharray="1.7 1.6"/>
<rect x="433.6" y="233.74" width="25.2" height="47.86" fill="#8fc5ff" stroke="#222" stroke-width="0.7" stroke-dasharray="1.7 1.6"/>
<rect x="461.4" y="269.99" width="25.2" height="11.61" fill="#8fc5ff" stroke="#222" stroke-width="0.7" stroke-dasharray="1.7 1.6"/>
<rect x="489.2" y="281.6" width="25.2" height="2.27" fill="#ffd4fb" stroke="#222" stroke-width="0.7" stroke-dasharray="1.7 1.6"/>
<rect x="517" y="281.6" width="25.2" height="6.66" fill="#ffd4fb" stroke="#222" stroke-width="0.7" stroke-dasharray="1.7 1.6"/>
<text x="335" y="279.09" text-anchor="middle" font-size="7.0" font-weight="bold" fill="#111">0.088</text>
<text x="335" y="262.66" text-anchor="middle" font-size="7.0" font-weight="bold" fill="#111">0.144</text>
<text x="362.8" y="294.03" text-anchor="middle" font-size="7.0" font-weight="bold" fill="#111">-0.123</text>
<text x="390.6" y="317.82" text-anchor="middle" font-size="7.0" font-weight="bold" fill="#111">-0.459</text>
<text x="418.4" y="282.72" text-anchor="middle" font-size="7.0" font-weight="bold" fill="#111">0.022</text>
<text x="418.4" y="250.13" text-anchor="middle" font-size="7.0" font-weight="bold" fill="#111">0.453</text>
<text x="446.2" y="261.39" text-anchor="middle" font-size="7.0" font-weight="bold" fill="#111">0.338</text>
<text x="446.2" y="322.28" text-anchor="middle" font-size="7.0" font-weight="bold" fill="#111">-0.522</text>
<text x="474" y="279.51" text-anchor="middle" font-size="7.0" font-weight="bold" fill="#111">0.082</text>
<text x="501.8" y="260.68" text-anchor="middle" font-size="7.0" font-weight="bold" fill="#111">0.348</text>
<text x="501.8" y="285.82" text-anchor="middle" font-size="7.0" font-weight="bold" fill="#111">-0.016</text>
<text x="529.6" y="286.72" text-anchor="middle" font-size="7.0" font-weight="bold" fill="#111">-0.047</text>
<rect x="310.8" y="206.3" width="283" height="158" fill="none" stroke="#111" stroke-width="1.3"/>
<text x="309.1" y="215.2" text-anchor="end" font-size="8.2" font-weight="bold" fill="#111">0.50</text>
<text x="309.1" y="250.6" text-anchor="end" font-size="8.2" font-weight="bold" fill="#111">0.25</text>
<text x="309.1" y="286" text-anchor="end" font-size="8.2" font-weight="bold" fill="#111">0.00</text>
<text x="309.1" y="321.4" text-anchor="end" font-size="8.2" font-weight="bold" fill="#111">-0.25</text>
<text x="309.1" y="356.8" text-anchor="end" font-size="8.2" font-weight="bold" fill="#111">-0.50</text>
<text x="334.4" y="371.6" text-anchor="middle" font-size="6.4" font-weight="bold" fill="#111">LCP</text>
<text x="362.2" y="371.6" text-anchor="middle" font-size="6.4" font-weight="bold" fill="#111">LNC</text>
<text x="389.2" y="371.6" text-anchor="middle" font-size="6.4" font-weight="bold" fill="#111"><tspan font-style="italic">N</tspan><tspan font-size="4.7" dy="1.3">area</tspan></text>
<text x="417.8" y="371.6" text-anchor="middle" font-size="6.4" font-weight="bold" fill="#111">PAR</text>
<text x="446.2" y="371.6" text-anchor="middle" font-size="6.4" font-weight="bold" fill="#111">SLA</text>
<text x="474" y="371.6" text-anchor="middle" font-size="6.4" font-weight="bold" fill="#111">SNC</text>
<text x="501.2" y="371.6" text-anchor="middle" font-size="6.4" font-weight="bold" fill="#111">SWC</text>
<text x="527.4" y="371.6" text-anchor="middle" font-size="6.4" font-weight="bold" fill="#111"><tspan font-style="italic">V</tspan><tspan font-size="4.7" dy="1.3">cmax</tspan></text>
<text x="314.8" y="217.1" font-size="10.2" font-weight="bold" fill="#000">(d)</text>
<text transform="translate(291 284.8) rotate(-90)" text-anchor="middle" font-size="8" font-weight="bold" fill="#111">Effects on GEP</text>
<rect x="555.5" y="259.5" width="9.8" height="8.7" fill="#fff" stroke="#222" stroke-width="0.7"/>
<rect x="555.5" y="268.7" width="9.8" height="8.7" fill="#fff" stroke="#222" stroke-width="0.7" stroke-dasharray="1.7 1.6"/>
<text x="569.1" y="266.4" font-size="6.5" font-weight="bold" fill="#111">Direct</text>
<text x="569.1" y="275.6" font-size="6.5" font-weight="bold" fill="#111">Indirect</text>
<rect x="555.5" y="292" width="9.8" height="9.3" fill="#ffd4fb" stroke="#222" stroke-width="0.7"/>
<rect x="555.5" y="301.3" width="9.8" height="9.3" fill="#8fc5ff" stroke="#222" stroke-width="0.7"/>
<text x="569" y="300" font-size="6.8" font-weight="bold" fill="#111">-</text>
<text x="568.5" y="309" font-size="6.8" font-weight="bold" fill="#111">+</text>
<line x1="310.8" y1="519" x2="542.7" y2="519" stroke="#222" stroke-width="0.8"/>
<rect x="319.3" y="465" width="26" height="54" fill="#8fc5ff" stroke="#222" stroke-width="0.7"/>
<rect x="347.5" y="465" width="26" height="54" fill="#8fc5ff" stroke="#222" stroke-width="0.7"/>
<rect x="375.7" y="467.25" width="26" height="51.75" fill="#8fc5ff" stroke="#222" stroke-width="0.7"/>
<rect x="432.1" y="400.5" width="26" height="118.5" fill="#8fc5ff" stroke="#222" stroke-width="0.7"/>
<rect x="488.5" y="429.5" width="26" height="71.75" fill="#8fc5ff" stroke="#222" stroke-width="0.7"/>
<rect x="319.3" y="519" width="26" height="23.75" fill="#ffd4fb" stroke="#222" stroke-width="0.7" stroke-dasharray="1.7 1.6"/>
<rect x="375.7" y="519" width="26" height="7.75" fill="#ffd4fb" stroke="#222" stroke-width="0.7" stroke-dasharray="1.7 1.6"/>
<rect x="403.9" y="489.5" width="26" height="29.5" fill="#8fc5ff" stroke="#222" stroke-width="0.7" stroke-dasharray="1.7 1.6"/>
<rect x="460.3" y="479.5" width="26" height="39.5" fill="#8fc5ff" stroke="#222" stroke-width="0.7" stroke-dasharray="1.7 1.6"/>
<rect x="488.5" y="501.25" width="26" height="17.75" fill="#8fc5ff" stroke="#222" stroke-width="0.7" stroke-dasharray="1.7 1.6"/>
<rect x="516.7" y="519" width="26" height="7.25" fill="#ffd4fb" stroke="#222" stroke-width="0.7" stroke-dasharray="1.7 1.6"/>
<text x="332.3" y="495.02" text-anchor="middle" font-size="7.0" font-weight="bold" fill="#111">0.212</text>
<text x="332.3" y="533.02" text-anchor="middle" font-size="7.0" font-weight="bold" fill="#111">-0.093</text>
<text x="360.5" y="495.02" text-anchor="middle" font-size="7.0" font-weight="bold" fill="#111">0.212</text>
<text x="388.7" y="495.02" text-anchor="middle" font-size="7.0" font-weight="bold" fill="#111">0.205</text>
<text x="388.7" y="525.82" text-anchor="middle" font-size="7.0" font-weight="bold" fill="#111">-0.031</text>
<text x="416.9" y="506.52" text-anchor="middle" font-size="7.0" font-weight="bold" fill="#111">0.118</text>
<text x="445.1" y="462.52" text-anchor="middle" font-size="7.0" font-weight="bold" fill="#111">0.47</text>
<text x="473.3" y="501.52" text-anchor="middle" font-size="7.0" font-weight="bold" fill="#111">0.154</text>
<text x="501.5" y="513.02" text-anchor="middle" font-size="7.0" font-weight="bold" fill="#111">0.067</text>
<text x="501.5" y="469.09" text-anchor="middle" font-size="7.0" font-weight="bold" fill="#111">0.287</text>
<text x="529.7" y="525.22" text-anchor="middle" font-size="7.0" font-weight="bold" fill="#111">-0.029</text>
<rect x="310.8" y="397" width="283" height="157.3" fill="none" stroke="#111" stroke-width="1.3"/>
<text x="309.1" y="422.6" text-anchor="end" font-size="8.2" font-weight="bold" fill="#111">0.4</text>
<text x="309.1" y="447.6" text-anchor="end" font-size="8.2" font-weight="bold" fill="#111">0.3</text>
<text x="309.1" y="472.6" text-anchor="end" font-size="8.2" font-weight="bold" fill="#111">0.2</text>
<text x="309.1" y="497.6" text-anchor="end" font-size="8.2" font-weight="bold" fill="#111">0.1</text>
<text x="309.1" y="522.6" text-anchor="end" font-size="8.2" font-weight="bold" fill="#111">0.0</text>
<text x="309.1" y="547.6" text-anchor="end" font-size="8.2" font-weight="bold" fill="#111">-0.1</text>
<text x="329.1" y="561.8" text-anchor="middle" font-size="6.4" font-weight="bold" fill="#111"><tspan font-style="italic">J</tspan><tspan font-size="4.7" dy="1.3">max</tspan></text>
<text x="358.1" y="561.8" text-anchor="middle" font-size="6.4" font-weight="bold" fill="#111">LAI</text>
<text x="386.5" y="561.8" text-anchor="middle" font-size="6.4" font-weight="bold" fill="#111">LNC</text>
<text x="413.9" y="561.8" text-anchor="middle" font-size="6.4" font-weight="bold" fill="#111"><tspan font-style="italic">N</tspan><tspan font-size="4.7" dy="1.3">area</tspan></text>
<text x="443.3" y="561.8" text-anchor="middle" font-size="6.4" font-weight="bold" fill="#111">PAR</text>
<text x="471.5" y="561.8" text-anchor="middle" font-size="6.4" font-weight="bold" fill="#111">SNC</text>
<text x="499.7" y="561.8" text-anchor="middle" font-size="6.4" font-weight="bold" fill="#111"><tspan font-style="italic">T</tspan><tspan font-size="4.7" dy="1.3">a</tspan></text>
<text x="528.3" y="561.8" text-anchor="middle" font-size="6.4" font-weight="bold" fill="#111">VPD</text>
<text x="314.8" y="407.8" font-size="10.2" font-weight="bold" fill="#000">(f)</text>
<text transform="translate(291 475.15) rotate(-90)" text-anchor="middle" font-size="8" font-weight="bold" fill="#111">Effects on GEP</text>
<rect x="555.5" y="449.5" width="9.8" height="8.7" fill="#fff" stroke="#222" stroke-width="0.7"/>
<rect x="555.5" y="458.7" width="9.8" height="8.7" fill="#fff" stroke="#222" stroke-width="0.7" stroke-dasharray="1.7 1.6"/>
<text x="569.1" y="456.4" font-size="6.5" font-weight="bold" fill="#111">Direct</text>
<text x="569.1" y="465.6" font-size="6.5" font-weight="bold" fill="#111">Indirect</text>
<rect x="555.5" y="482" width="9.8" height="9.3" fill="#ffd4fb" stroke="#222" stroke-width="0.7"/>
<rect x="555.5" y="491.3" width="9.8" height="9.3" fill="#8fc5ff" stroke="#222" stroke-width="0.7"/>
<text x="569" y="490" font-size="6.8" font-weight="bold" fill="#111">-</text>
<text x="568.5" y="499" font-size="6.8" font-weight="bold" fill="#111">+</text>
<rect x="290.7" y="486.3" width="300" height="58.1" fill="rgb(31,135,79)" fill-opacity="0.5"/>
<g fill="none" stroke="#fff" stroke-opacity="0.85">
<circle cx="323.5" cy="515.8" r="24.8" stroke-width="1"/>
<circle cx="323.5" cy="515.8" r="18.6" stroke-width="0.7"/>
<circle cx="323.5" cy="515.8" r="21.8" stroke-width="5.4" stroke-opacity="0.12"/>
</g>
<defs><path id="ringb" d="M 300.6 517.3 A 20.3 20.3 0 0 0 346.4 517.3"/><path id="ringt" d="M 306.5 504.79999999999995 A 20.6 20.6 0 0 1 340.5 504.79999999999995"/></defs>
<text font-size="4.1" font-weight="bold" fill="#fff" fill-opacity="0.95" letter-spacing="0.1"><textPath href="#ringb" startOffset="50%" text-anchor="middle">BEIJING FORESTRY UNIVERSITY</textPath></text>
<text font-size="4.2" font-weight="bold" fill="#fff" fill-opacity="0.8" letter-spacing="1.6"><textPath href="#ringt" startOffset="50%" text-anchor="middle">#‡*#‡*</textPath></text>
<g fill="#fff" fill-opacity="0.9">
<path d="M323.5 499.2 L329.1 505.4 L329.1 509.0 L323.5 502.8 L317.9 509.0 L317.9 505.4 Z"/>
<path d="M323.5 504.4 L332.1 511.79999999999995 L332.1 515.4 L323.5 508.0 L314.9 515.4 L314.9 511.79999999999995 Z"/>
<path d="M323.5 509.8 L335.5 518.4 L335.5 522.0 L323.5 513.4 L311.5 522.0 L311.5 518.4 Z"/>
<path d="M308.5 525.6 Q314.5 519 319.9 519.4 L323.5 515.8 L327.1 519.4 Q332.5 519 338.5 525.6 Q323.5 523.4 308.5 525.6Z"/>
<text x="322.0" y="532.2" font-size="3.3" font-weight="bold" text-anchor="middle">1952</text>
</g>
<g transform="translate(357.5 497) scale(0.22 0.27)" fill="none" stroke="#fff" stroke-opacity="0.93" stroke-width="10" stroke-linecap="round" stroke-linejoin="round">
<path d="M40 8 C44 30 40 60 42 92" stroke-width="16"/>
<path d="M10 50 L36 46" stroke-width="18"/>
<path d="M12 92 L40 86" stroke-width="16"/>
<path d="M74 4 C72 30 72 50 72 70" stroke-width="9"/>
<path d="M72 70 C80 74 90 70 98 62" stroke-width="8"/>
<path d="M96 30 L74 44" stroke-width="8"/>
</g>
<g transform="translate(385 494.5) scale(0.21 0.305)" fill="none" stroke="#fff" stroke-opacity="0.93" stroke-width="10" stroke-linecap="round" stroke-linejoin="round">
<path d="M66 4 L72 12" stroke-width="10"/>
<path d="M6 52 C20 44 50 30 96 22" stroke-width="12"/>
<path d="M4 53 L18 47" stroke-width="18"/>
<path d="M46 30 C48 50 46 70 44 92" stroke-width="9"/>
<path d="M44 92 L34 86" stroke-width="6"/>
<path d="M30 60 L22 72" stroke-width="7"/>
<path d="M78 70 L88 84" stroke-width="9"/>
</g>
<g transform="translate(416 496) scale(0.19 0.265)" fill="none" stroke="#fff" stroke-opacity="0.93" stroke-width="10" stroke-linecap="round" stroke-linejoin="round">
<path d="M2 40 L46 32" stroke-width="8"/>
<path d="M26 6 C28 40 26 70 24 98" stroke-width="10"/>
<path d="M24 42 L4 72" stroke-width="7"/>
<path d="M30 44 L42 56" stroke-width="7"/>
<path d="M50 34 L98 26" stroke-width="7"/>
<path d="M74 2 C76 36 74 70 72 96" stroke-width="10"/>
<path d="M72 36 L50 76" stroke-width="7"/>
<path d="M76 38 C82 54 90 66 99 72" stroke-width="9"/>
</g>
<g transform="translate(445 497.5) scale(0.175 0.245)" fill="none" stroke="#fff" stroke-opacity="0.93" stroke-width="10" stroke-linecap="round" stroke-linejoin="round">
<path d="M34 14 C38 40 36 60 30 84" stroke-width="10"/>
<path d="M62 6 C64 30 62 56 60 84" stroke-width="10"/>
<path d="M8 52 L94 40" stroke-width="7"/>
<path d="M10 50 L22 66" stroke-width="9"/>
<path d="M4 92 C30 84 60 82 98 84" stroke-width="11"/>
<path d="M54 8 L90 2" stroke-width="6"/>
</g>
<g transform="translate(466.5 499.5) scale(0.225 0.225)" fill="none" stroke="#fff" stroke-opacity="0.93" stroke-width="10" stroke-linecap="round" stroke-linejoin="round">
<path d="M10 34 C40 28 70 22 96 14" stroke-width="10"/>
<path d="M54 2 C56 40 40 72 4 96" stroke-width="11"/>
<path d="M56 44 C64 66 78 84 98 94" stroke-width="13"/>
</g>
<g transform="translate(493 494.5) scale(0.19 0.305)" fill="none" stroke="#fff" stroke-opacity="0.93" stroke-width="10" stroke-linecap="round" stroke-linejoin="round">
<path d="M34 10 L40 20" stroke-width="8"/>
<path d="M56 4 L58 16" stroke-width="8"/>
<path d="M86 2 L74 18" stroke-width="8"/>
<path d="M20 36 L18 28 C40 24 66 22 92 24 L84 36" stroke-width="7"/>
<path d="M38 46 L72 42 L54 56" stroke-width="7"/>
<path d="M54 56 C58 70 54 86 44 98 L34 92" stroke-width="8"/>
<path d="M10 72 C40 64 66 62 96 60" stroke-width="8"/>
</g>
<text x="362.8" y="537.4" font-size="7.3" fill="#fff" stroke="#fff" stroke-width="0.25" fill-opacity="0.95" stroke-opacity="0.9" textLength="143.4" lengthAdjust="spacing">BEIJING FORESTRY UNIVERSITY</text>
<rect x="519.4" y="490.5" width="1.2" height="47.7" fill="#fff" fill-opacity="0.9"/>
<g transform="translate(531 493.3) scale(0.21 0.217)" fill="none" stroke="#fff" stroke-opacity="0.95" stroke-width="6.2" stroke-linecap="butt" stroke-linejoin="round">
<path d="M22 3 L27 13"/>
<path d="M6 20 H48"/>
<path d="M16 28 L21 42"/>
<path d="M40 27 L34 43"/>
<path d="M2 48 H52"/>
<path d="M4 64 H50"/>
<path d="M27 48 V96 L21 91"/>
<path d="M25 66 L6 88"/>
<path d="M30 68 L48 84"/>
<path d="M92 5 Q76 14 60 16"/>
<path d="M60 16 V55 Q60 80 50 97"/>
<path d="M60 44 H98"/>
<path d="M80 44 V98"/>
</g>
<g transform="translate(555.5 493.3) scale(0.212 0.217)" fill="none" stroke="#fff" stroke-opacity="0.95" stroke-width="6.2" stroke-linecap="butt" stroke-linejoin="round">
<path d="M12 3 L20 14"/>
<path d="M10 22 V98"/>
<path d="M30 10 H90 V90 Q90 97 78 96"/>
<path d="M28 30 H74"/>
<path d="M37 30 V77"/>
<path d="M64 30 V92"/>
<path d="M37 45 H64"/>
<path d="M37 60 H64"/>
<path d="M26 79 L74 73"/>
</g>
<text x="531.3" y="535" font-size="19.8" fill="#fff" fill-opacity="0.95" textLength="50.4" lengthAdjust="spacingAndGlyphs">NEWS</text>
</svg>
</body></html>
